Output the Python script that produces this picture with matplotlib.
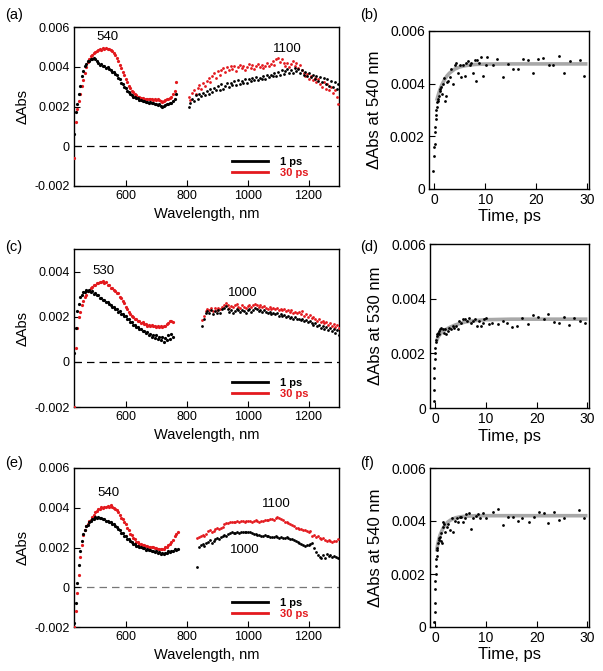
import numpy as np
import matplotlib
matplotlib.use("Agg")
import matplotlib.pyplot as plt
from matplotlib.lines import Line2D
from matplotlib.ticker import FuncFormatter

plt.rcParams['font.family'] = ['Liberation Sans', 'DejaVu Sans']

RED = '#e3191e'

# ---- transient spectra, values in 1e-5 units ----
# visible part starts at 430 nm, 5 nm step; NIR part has its own start, 6 nm step
a_vis_1ps = [60, 170, 215, 265, 305, 352, 378, 402, 413, 428, 430, 438, 441, 444, 437, 428, 418, 408, 412, 402,
             404, 396, 398, 388, 386, 376, 374, 362, 356, 343, 336, 320, 313, 298, 291, 279, 273, 263, 259, 250,
             248, 241, 241, 234, 234, 228, 229, 224, 225, 220, 222, 217, 219, 213, 215, 209, 211, 204, 199, 205,
             207, 211, 214, 219, 220, 228, 236, 262]
a_vis_30ps = [-60, 120, 185, 228, 262, 302, 335, 370, 398, 422, 440, 452, 460, 470, 472, 480, 482, 488, 486, 492,
              490, 494, 489, 490, 484, 479, 467, 459, 444, 431, 411, 396, 374, 359, 339, 323, 305, 293, 279, 271,
              261, 257, 250, 248, 243, 243, 239, 240, 237, 239, 236, 238, 235, 237, 234, 236, 231, 228, 222, 226,
              231, 239, 240, 244, 249, 263, 279, 325]
a_nir_start = 806
a_nir_1ps = [195, 218, 236, 226, 256, 240, 263, 251, 268, 259, 280, 262, 287, 274, 293, 281, 302, 284, 311, 290,
             304, 319, 297, 320, 306, 327, 310, 331, 311, 327, 320, 336, 318, 339, 327, 341, 331, 350, 333, 343,
             337, 353, 338, 360, 346, 361, 352, 369, 351, 376, 359, 383, 366, 377, 391, 367, 386, 371, 396, 377,
             389, 369, 383, 361, 376, 354, 369, 347, 361, 337, 353, 329, 346, 321, 341, 311, 336, 304, 329, 297,
             321, 289, 311]
a_nir_30ps = [250, 232, 268, 282, 265, 295, 308, 290, 318, 305, 330, 342, 322, 352, 368, 345, 378, 360, 385, 392,
              372, 398, 385, 405, 388, 402, 380, 398, 410, 392, 405, 385, 400, 412, 395, 408, 390, 402, 415, 398,
              410, 392, 405, 420, 402, 415, 428, 410, 438, 445, 425, 440, 418, 402, 420, 398, 412, 430, 405, 418,
              395, 410, 385, 368, 352, 362, 340, 355, 332, 345, 322, 338, 315, 300, 325, 290, 312, 282, 298, 270,
              285, 250, 215]

c_vis_1ps = [40, 150, 225, 258, 288, 296, 308, 309, 320, 316, 317, 309, 312, 302, 304, 295, 294, 285, 284, 275,
             274, 265, 264, 255, 254, 245, 244, 235, 234, 223, 224, 212, 212, 202, 202, 189, 188, 177, 176, 165,
             164, 155, 154, 145, 146, 136, 138, 128, 131, 120, 125, 112, 119, 106, 117, 102, 112, 95, 110, 88,
             106, 98, 120, 102, 125, 110]
c_vis_30ps = [-200, 60, 150, 198, 222, 252, 268, 288, 298, 312, 316, 327, 330, 340, 340, 348, 348, 355, 353, 358,
              350, 352, 340, 340, 328, 326, 318, 315, 306, 304, 288, 284, 268, 262, 245, 235, 220, 214, 202, 200,
              190, 192, 183, 183, 173, 175, 166, 168, 161, 165, 158, 163, 157, 161, 156, 160, 155, 159, 154, 160,
              157, 168, 170, 180, 181, 178]
c_nir_start = 850
c_nir_1ps = [160, 190, 215, 225, 218, 230, 212, 225, 215, 228, 218, 232, 240, 248, 235, 222, 230, 218, 225, 235,
             228, 222, 230, 225, 218, 228, 232, 222, 230, 238, 232, 225, 230, 222, 228, 220, 215, 222, 212, 218,
             210, 215, 205, 212, 202, 208, 198, 205, 195, 200, 192, 198, 188, 192, 185, 190, 180, 185, 175, 182,
             170, 165, 172, 158, 165, 150, 160, 145, 155, 140, 150, 135, 145, 130, 140, 120]
c_nir_30ps = [185, 205, 225, 235, 228, 240, 225, 238, 228, 240, 232, 245, 252, 262, 250, 238, 248, 242, 250, 255,
              245, 240, 250, 245, 238, 248, 252, 245, 250, 258, 252, 245, 250, 242, 248, 240, 235, 242, 235, 240,
              232, 238, 228, 235, 228, 232, 225, 230, 222, 228, 218, 222, 215, 220, 212, 225, 205, 210, 200, 208,
              195, 200, 190, 182, 188, 175, 182, 170, 178, 165, 172, 160, 168, 155, 162, 150]

e_vis_1ps = [-180, -80, 20, 110, 182, 232, 270, 290, 307, 315, 330, 332, 343, 342, 352, 349, 355, 347, 350, 342,
             342, 334, 335, 327, 327, 317, 317, 307, 304, 292, 287, 275, 272, 259, 257, 245, 242, 232, 230, 219,
             218, 209, 210, 202, 204, 195, 197, 189, 192, 185, 188, 181, 184, 177, 180, 173, 176, 168, 172, 166,
             174, 171, 180, 176, 184, 181, 190, 186, 194]
e_vis_30ps = [-200, -120, -30, 60, 150, 215, 262, 288, 307, 318, 334, 340, 355, 362, 380, 383, 395, 396, 402, 400,
              405, 403, 410, 406, 412, 403, 400, 393, 390, 377, 366, 350, 341, 326, 316, 298, 286, 270, 261, 248,
              241, 230, 227, 219, 218, 212, 212, 207, 208, 203, 205, 201, 202, 197, 198, 193, 194, 190, 193, 193,
              201, 203, 211, 216, 229, 238, 256, 268, 279]
e_nir_start = 834
e_nir_1ps = [100, 205, 215, 218, 210, 222, 230, 238, 225, 232, 245, 250, 242, 252, 260, 265, 258, 268, 272, 278,
             275, 272, 276, 274, 278, 276, 280, 278, 276, 278, 274, 270, 268, 265, 262, 260, 258, 262, 256, 258,
             255, 252, 255, 258, 252, 248, 252, 250, 246, 255, 248, 245, 242, 238, 232, 228, 225, 218, 212, 210,
             212, 215, 218, 222, 200, 175, 160, 150, 145, 160, 148, 165, 155, 160, 150, 158, 150, 145]
e_nir_30ps = [248, 255, 258, 262, 260, 268, 282, 290, 280, 285, 292, 298, 295, 300, 305, 318, 322, 325, 328, 330,
              328, 330, 332, 330, 332, 334, 330, 333, 335, 332, 330, 335, 338, 334, 330, 332, 335, 338, 340, 338,
              342, 345, 340, 348, 352, 348, 345, 338, 330, 328, 322, 318, 312, 308, 300, 298, 295, 292, 288, 290,
              285, 280, 282, 260, 265, 255, 260, 250, 245, 248, 240, 235, 238, 232, 228, 232, 235, 245]

# ---- kinetics, values in 1e-4 units ----
b_t = [-0.13, 0, 0.07, 0.13, 0.2, 0.26, 0.33, 0.39, 0.46, 0.52, 0.59, 0.72, 0.85, 0.98, 1.1, 1.24, 1.43, 1.63,
       1.76, 1.95, 2.08, 2.28, 2.54, 2.74, 3.06, 3.39, 3.71, 4.04, 4.36, 4.69, 5.02, 5.34, 5.67, 5.99, 6.32, 6.65,
       6.97, 7.3, 7.62, 7.95, 8.14, 8.4, 8.8, 9.25, 9.58, 10.2, 10.4, 11.5, 12.3, 13.4, 14.5, 15.4, 16.4, 17.4,
       18.4, 19.3, 20.3, 21.3, 22.5, 23.3, 24.4, 25.5, 26.5, 28.5, 29.4]
b_v = [7, 12.7, 16, 17, 21.6, 23.5, 26.6, 28, 30, 31, 33, 33.6, 34, 35.5, 37.4, 38, 38.7, 36, 40, 42, 33.6, 35.5,
       40.6, 41, 42.5, 45.7, 40, 47, 48, 44, 47, 42.5, 47, 43, 48, 48.5, 47, 48, 44, 49, 41, 49, 48, 50, 43, 47,
       50, 47, 49.5, 42.5, 47.6, 45.7, 45.7, 49.5, 49, 44, 49.5, 49.7, 47, 47, 50.5, 44, 48.5, 49, 43]
b_fit_t = [0.5, 0.75, 1, 1.25, 1.5, 2, 2.5, 3, 4, 5, 6, 7, 8, 10, 15, 30]
b_fit_v = [33.5, 35.3, 36.9, 38.3, 39.5, 41.4, 42.9, 44.0, 45.5, 46.35, 46.8, 47.1, 47.3, 47.45, 47.5, 47.5]

d_t = [-0.26, -0.2, -0.2, -0.13, -0.07, 0, 0.07, 0.13, 0.2, 0.33, 0.46, 0.59, 0.72, 0.85, 1.05, 1.24, 1.5, 1.7,
       1.9, 2.16, 2.48, 2.81, 3.14, 3.46, 3.79, 4.12, 4.44, 4.77, 5.1, 5.42, 5.95, 6.27, 6.73, 7.06, 7.39, 7.91,
       8.17, 8.56, 9.02, 9.35, 9.67, 10.0, 10.65, 11.3, 12.3, 13.3, 14.2, 15.2, 16.2, 17.2, 18.2, 19.2, 20.3,
       21.4, 22.3, 23.4, 24.4, 25.4, 26.3, 27.3, 28.6, 29.6]
d_v = [2.4, 6.7, 11, 14.7, 17.8, 20, 22, 24, 25, 27, 26.3, 27.5, 28, 27, 28.8, 29.4, 28.8, 27.5, 28.8, 27, 28,
       29.4, 28.8, 30, 29.4, 30, 28.8, 31.8, 31.2, 32.4, 32.4, 31.8, 33, 31.2, 31.8, 32.4, 30, 31.8, 30, 31.2,
       32.4, 33, 30.6, 31, 30.6, 31.8, 31, 29.8, 30, 33, 30.6, 34, 33.4, 32.4, 34.3, 31.5, 31.2, 33.3, 30.2, 33,
       31.8, 31.2]
d_fit_t = [0.3, 0.6, 1, 1.5, 2, 3, 4, 5, 6, 8, 10, 15, 30]
d_fit_v = [24.5, 26, 27, 28, 28.6, 29.6, 30.4, 31, 31.5, 32, 32.3, 32.5, 32.5]

f_t = [-0.13, -0.07, -0.07, 0, 0.07, 0.13, 0.2, 0.26, 0.33, 0.39, 0.46, 0.59, 0.72, 0.85, 0.98, 1.1, 1.24, 1.37,
       1.5, 1.63, 1.82, 2.02, 2.28, 2.6, 2.93, 3.25, 3.58, 3.9, 4.23, 4.55, 4.88, 5.2, 5.53, 5.86, 6.18, 6.7,
       7.16, 7.48, 8.0, 8.46, 8.78, 9.43, 10.1, 11.4, 12.4, 13.3, 14.3, 15.3, 16.3, 17.2, 18.4, 19.5, 20.5, 21.5,
       22.3, 23.4, 24.4, 25.4, 28.3, 29.3]
f_v = [2, 5.8, 8.9, 14.4, 17.5, 20, 23, 25.5, 26.7, 29, 29.8, 31.7, 33, 33.5, 34, 32.3, 35.4, 31.7, 37.8, 39.7,
       39, 36, 37.8, 39, 36.6, 41, 36, 40, 41, 39.7, 41.5, 41.5, 39.7, 41, 42.7, 43, 37, 41, 42, 42.7, 41, 43, 41,
       43.4, 44.6, 38.4, 41.5, 41.5, 40, 41, 39.7, 41.5, 43.4, 43, 39.4, 43.4, 40.3, 41.3, 44, 41.3]
f_fit_t = [0.3, 0.5, 0.75, 1, 1.5, 2, 2.5, 3, 4, 5, 6, 8, 10, 30]
f_fit_v = [28.5, 31, 33.2, 34.8, 37, 38.6, 39.6, 40.3, 41.2, 41.6, 41.8, 42, 42, 42]


def grid(start, step, vals):
    return start + step * np.arange(len(vals))


def fmt(v, pos):
    return '0' if abs(v) < 1e-9 else f'{v:.3f}'


W, H = 603, 671
fig = plt.figure(figsize=(W / 100, H / 100), dpi=100)


def rect(l, r, t, b):
    return [l / W, 1 - b / H, (r - l) / W, (b - t) / H]


def style(ax, size):
    for s in ax.spines.values():
        s.set_linewidth(1.0)
    ax.tick_params(direction='in', length=4, width=0.8, labelsize=size, pad=3)
    ax.yaxis.set_major_formatter(FuncFormatter(fmt))


def spectrum(ax, vis1, vis30, nir_start, nir1, nir30, ylim, yticks, notes, zero_col):
    ax.axhline(0, color=zero_col, lw=0.9, dashes=(6, 4), zorder=1)
    for v, c in [(vis30, RED), (vis1, 'k')]:
        ax.plot(grid(430, 5, v), np.array(v) * 1e-5, ls='none', marker='o', ms=2.3, mew=0, color=c, zorder=3)
    for v, c in [(nir30, RED), (nir1, 'k')]:
        ax.plot(grid(nir_start, 6, v), np.array(v) * 1e-5, ls='none', marker='o', ms=2.0, mew=0, color=c, zorder=3)
    ax.set_xlim(430, 1300)
    ax.set_ylim(*ylim)
    ax.set_xticks([600, 800, 1000, 1200])
    ax.set_yticks(yticks)
    style(ax, 9)
    ax.set_xlabel('Wavelength, nm', fontsize=10.5)
    ax.set_ylabel('ΔAbs', fontsize=10.5)
    ax.xaxis.set_label_coords(0.5, -0.13)
    ax.yaxis.set_label_coords(-0.166, 0.5)
    for x, y, s in notes:
        ax.text(x, y, s, fontsize=9.5, ha='center', va='center')
    handles = [Line2D([], [], color='k', lw=2), Line2D([], [], color=RED, lw=2)]
    ax.legend(handles, ['1 ps', '30 ps'], loc='lower right', bbox_to_anchor=(0.895, 0.035),
              frameon=False, prop={'weight': 'bold', 'size': 8}, labelcolor=['k', RED],
              handlelength=3.3, handletextpad=1.1, labelspacing=0.15, borderaxespad=0, borderpad=0.2)


def kinetics(ax, t, v, ft, fv, label):
    ax.plot(ft, np.array(fv) * 1e-4, color='#a8a8a8', lw=2.6, zorder=2, solid_capstyle='butt')
    ax.plot(t, np.array(v) * 1e-4, ls='none', marker='o', ms=2.0, mew=0, color='k', zorder=3)
    ax.set_xlim(-1, 30.3)
    ax.set_ylim(0, 0.006)
    ax.set_xticks([0, 10, 20, 30])
    ax.set_yticks([0, 0.002, 0.004, 0.006])
    style(ax, 10)
    ax.set_xlabel('Time, ps', fontsize=12)
    ax.set_ylabel(label, fontsize=12)
    ax.xaxis.set_label_coords(0.5, -0.125)
    ax.yaxis.set_label_coords(-0.294, 0.5)


ax_a = fig.add_axes(rect(74, 339, 27, 186))
spectrum(ax_a, a_vis_1ps, a_vis_30ps, a_nir_start, a_nir_1ps, a_nir_30ps,
         (-0.002, 0.006), [-0.002, 0, 0.002, 0.004, 0.006],
         [(540, 0.0055, '540'), (1130, 0.0049, '1100')], 'k')

ax_c = fig.add_axes(rect(74, 339, 249, 407))
spectrum(ax_c, c_vis_1ps, c_vis_30ps, c_nir_start, c_nir_1ps, c_nir_30ps,
         (-0.002, 0.005), [-0.002, 0, 0.002, 0.004],
         [(528, 0.00403, '530'), (985, 0.00305, '1000')], 'k')

ax_e = fig.add_axes(rect(74, 339, 468, 627))
spectrum(ax_e, e_vis_1ps, e_vis_30ps, e_nir_start, e_nir_1ps, e_nir_30ps,
         (-0.002, 0.006), [-0.002, 0, 0.002, 0.004, 0.006],
         [(542, 0.00474, '540'), (1093, 0.00419, '1100'), (991, 0.00187, '1000')], '#777777')

ax_b = fig.add_axes(rect(429, 589, 31, 189))
kinetics(ax_b, b_t, b_v, b_fit_t, b_fit_v, 'ΔAbs at 540 nm')
ax_d = fig.add_axes(rect(430, 589, 244, 408))
kinetics(ax_d, d_t, d_v, d_fit_t, d_fit_v, 'ΔAbs at 530 nm')
ax_f = fig.add_axes(rect(430, 589, 468, 627))
kinetics(ax_f, f_t, f_v, f_fit_t, f_fit_v, 'ΔAbs at 540 nm')

for s, x, y in [('(a)', 5, 15), ('(b)', 360, 15), ('(c)', 5, 247), ('(d)', 360, 247),
                ('(e)', 5, 463), ('(f)', 360, 463)]:
    fig.text(x / W, 1 - y / H, s, fontsize=10.5, ha='left', va='center')

fig.savefig('out.png', dpi=100)
